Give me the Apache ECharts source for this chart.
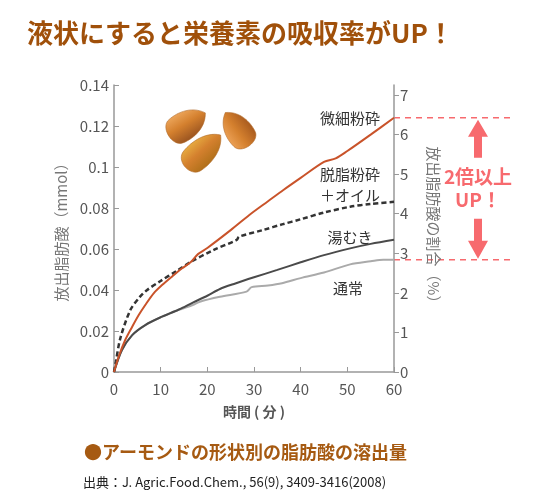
<!DOCTYPE html>
<html>
<head>
<meta charset="utf-8">
<script src="https://cdn.jsdelivr.net/npm/echarts@6/dist/echarts.min.js"></script>
<style>
html,body{margin:0;padding:0;background:#fff;}
#main{width:551px;height:500px;}
</style>
</head>
<body>
<div id="main"></div>
<script>
// data (minutes, mmol)
var xTicks = [0, 10, 20, 30, 40, 50, 60];
var leftTicks = [0, 0.02, 0.04, 0.06, 0.08, 0.1, 0.12, 0.14];
var rightTicks = [0, 1, 2, 3, 4, 5, 6, 7];
var rightMax = 7.25; // 0.14 mmol on the left = 7.25 % on the right

var fineData = [[0,0],[1,0.0075],[2.4,0.0156],[3.9,0.0221],[5.3,0.0278],[6.7,0.0327],[8.5,0.0384],[10.3,0.0424],
  [12.4,0.0465],[14.6,0.0506],[16.4,0.0535],[18,0.0575],[20,0.0605],[25,0.0692],[29,0.0766],[33,0.0833],
  [36.3,0.0888],[40,0.0947],[45,0.1025],[47.5,0.1042],[50,0.1078],[55,0.1158],[60,0.1240]];
var defatData = [[0,0],[0.4,0.005],[1.35,0.0164],[3.5,0.0302],[5.5,0.0365],[7.1,0.040],[9.9,0.0443],[13.5,0.0494],
  [16.3,0.0535],[21.3,0.0595],[26.3,0.0644],[26.8,0.0660],[32,0.0693],[36,0.072],[40,0.0745],[45,0.0778],
  [50.6,0.0806],[55,0.0820],[60,0.0830]];
var blanchData = [[0,0],[1.7,0.0107],[3.9,0.018],[6.7,0.0229],[10.3,0.027],[13.9,0.0305],[17,0.034],[20,0.0372],
  [22.7,0.0405],[26,0.0432],[30,0.0462],[35,0.0498],[40,0.0535],[45,0.0570],[50.6,0.0603],[55,0.0625],[60,0.0645]];
var normalData = [[0,0],[1.7,0.0107],[3.9,0.018],[6.7,0.0229],[10.3,0.027],[13.9,0.0303],[17,0.0328],[18.4,0.0343],
  [22.7,0.0367],[28.4,0.0392],[29.5,0.0414],[33,0.0422],[36,0.0433],[40,0.0458],[45,0.0485],[50.6,0.0525],
  [55,0.0540],[57.7,0.0548],[60,0.0548]];

var seriesNames = ['微細粉砕', '脱脂粉砕\n＋オイル', '湯むき', '通常'];
var FONT = '"Noto Sans CJK JP", "Noto Sans", sans-serif';

// almond outline (tip on the right), registered as a graphic shape
var AlmondShape = echarts.graphic.extendPath(
  'M24,0 C15,-12 -4,-13 -14,-11 C-24,-8 -24,8 -14,11 C-4,13 15,12 24,0 Z', {});
echarts.graphic.registerShape('almond', AlmondShape);

var chart = echarts.init(document.getElementById('main'));

var option = {
  backgroundColor: '#fff',
  animation: false,
  textStyle: { fontFamily: FONT },
  grid: { left: 114, right: 157, top: 85, bottom: 128 },
  xAxis: {
    type: 'value', min: 0, max: 60, interval: 10,
    name: '時間 ( 分 )', nameLocation: 'middle', nameGap: 33,
    nameTextStyle: { color: '#555', fontSize: 14, fontWeight: 'bold' },
    axisLine: { lineStyle: { color: '#999', width: 1.5 } },
    axisTick: { inside: true, length: 5, lineStyle: { color: '#999' }, customValues: xTicks },
    axisLabel: { color: '#555', fontSize: 15, margin: 10, customValues: xTicks },
    splitLine: { show: false }
  },
  yAxis: [{
    type: 'value', min: 0, max: 0.14, interval: 0.02,
    name: '放出脂肪酸（mmol）', nameLocation: 'middle', nameGap: 45, nameRotate: 90,
    nameTextStyle: { color: '#777', fontSize: 15 },
    axisLine: { show: true, lineStyle: { color: '#999', width: 1.5 } },
    axisTick: { show: true, inside: true, length: 5, lineStyle: { color: '#999' }, customValues: leftTicks },
    axisLabel: { color: '#555', fontSize: 15, margin: 5, customValues: leftTicks },
    splitLine: { show: false }
  }, {
    type: 'value', min: 0, max: rightMax, position: 'right',
    name: '放出脂肪酸の割合（%）', nameLocation: 'middle', nameGap: 32, nameRotate: -90,
    nameTextStyle: { color: '#777', fontSize: 15 },
    axisLine: { show: true, lineStyle: { color: '#999', width: 1.5 } },
    axisTick: { show: true, length: 5, lineStyle: { color: '#999' }, customValues: rightTicks },
    axisLabel: { color: '#555', fontSize: 15, margin: 6, customValues: rightTicks },
    splitLine: { show: false }
  }],
  series: [
    { name: seriesNames[0], type: 'line', data: fineData, showSymbol: false, smooth: 0.3,
      lineStyle: { color: '#c9532a', width: 2 }, z: 4 },
    { name: seriesNames[1], type: 'line', data: defatData, showSymbol: false, smooth: 0.3,
      lineStyle: { color: '#333', width: 2.5, type: [5, 3] }, z: 3 },
    { name: seriesNames[2], type: 'line', data: blanchData, showSymbol: false, smooth: 0.3,
      lineStyle: { color: '#4a4a4a', width: 2 }, z: 2 },
    { name: seriesNames[3], type: 'line', data: normalData, showSymbol: false, smooth: 0.3,
      lineStyle: { color: '#aaa', width: 2 }, z: 1 }
  ]
};
chart.setOption(option);

function almond(x, y, rot, sx, sy, light, dark) {
  return {
    type: 'almond', x: x, y: y, rotation: rot, scaleX: sx, scaleY: sy, z: 10,
    shape: {},
    style: {
      fill: new echarts.graphic.LinearGradient(0, 0, 0, 1, [
        { offset: 0, color: light }, { offset: 0.45, color: '#d4802e' }, { offset: 1, color: dark }
      ]),
      stroke: '#b06a28', lineWidth: 0.5
    }
  };
}

// annotation positions derived from data through the axes
var last = function (d) { return d[d.length - 1][1]; };
var yTop = chart.convertToPixel({ yAxisIndex: 0 }, last(fineData));
var yBot = chart.convertToPixel({ yAxisIndex: 0 }, last(normalData));
var xEnd = chart.convertToPixel({ xAxisIndex: 0 }, 60);
var ax = xEnd + 84;
var pink = '#f76a6e';

var graphics = [
  { type: 'text', x: 27, y: 33, style: { text: '液状にすると栄養素の吸収率がUP！', fill: '#a0500a',
      font: 'bold 26px ' + FONT, verticalAlign: 'middle' } },
  { type: 'text', x: 84, y: 452, style: { text: '●アーモンドの形状別の脂肪酸の溶出量', fill: '#a65a12',
      font: 'bold 18px ' + FONT, verticalAlign: 'middle' } },
  { type: 'text', x: 83, y: 482, style: { text: '出典：J. Agric.Food.Chem., 56(9), 3409-3416(2008)', fill: '#222',
      font: '13px ' + FONT, verticalAlign: 'middle' } },
  // series labels
  { type: 'text', x: 350, y: 118, style: { text: '微細粉砕', fill: '#333', font: '15px ' + FONT, align: 'center', verticalAlign: 'middle' } },
  { type: 'text', x: 350, y: 185, style: { text: '脱脂粉砕\n＋オイル', fill: '#333', font: '15px ' + FONT, align: 'center', verticalAlign: 'middle', lineHeight: 21 } },
  { type: 'text', x: 350, y: 237, style: { text: '湯むき', fill: '#333', font: '15px ' + FONT, align: 'center', verticalAlign: 'middle' } },
  { type: 'text', x: 348, y: 288, style: { text: '通常', fill: '#333', font: '15px ' + FONT, align: 'center', verticalAlign: 'middle' } },
  // almonds
  almond(186, 125, 0.56, 0.95, 1.2, '#eca55a', '#9a5420'),
  almond(202, 152, 0.74, 1.05, 1.15, '#e6aa40', '#b0701a'),
  almond(238, 130, 2.2, 0.9, 1.15, '#eba055', '#a85a1e'),
  // dashed guide lines
  { type: 'line', shape: { x1: xEnd, y1: yTop, x2: xEnd + 120, y2: yTop }, style: { stroke: pink, lineWidth: 1.5, lineDash: [6, 5] } },
  { type: 'line', shape: { x1: xEnd, y1: yBot, x2: xEnd + 120, y2: yBot }, style: { stroke: pink, lineWidth: 1.5, lineDash: [6, 5] } },
  // arrows
  { type: 'polygon', shape: { points: [[ax, yTop + 2], [ax + 10, yTop + 19], [ax + 4, yTop + 19], [ax + 4, yTop + 40],
      [ax - 4, yTop + 40], [ax - 4, yTop + 19], [ax - 10, yTop + 19]] }, style: { fill: pink } },
  { type: 'polygon', shape: { points: [[ax, yBot - 1], [ax + 10, yBot - 19], [ax + 4, yBot - 19], [ax + 4, yBot - 41],
      [ax - 4, yBot - 41], [ax - 4, yBot - 19], [ax - 10, yBot - 19]] }, style: { fill: pink } },
  { type: 'text', x: ax, y: (yTop + yBot) / 2 - 12, style: { text: '2倍以上', fill: pink, font: 'bold 19px ' + FONT,
      align: 'center', verticalAlign: 'middle' } },
  { type: 'text', x: ax, y: (yTop + yBot) / 2 + 11, style: { text: 'UP！', fill: pink, font: 'bold 19px ' + FONT,
      align: 'center', verticalAlign: 'middle' } }
];
chart.setOption({ graphic: graphics });
</script>
</body>
</html>
